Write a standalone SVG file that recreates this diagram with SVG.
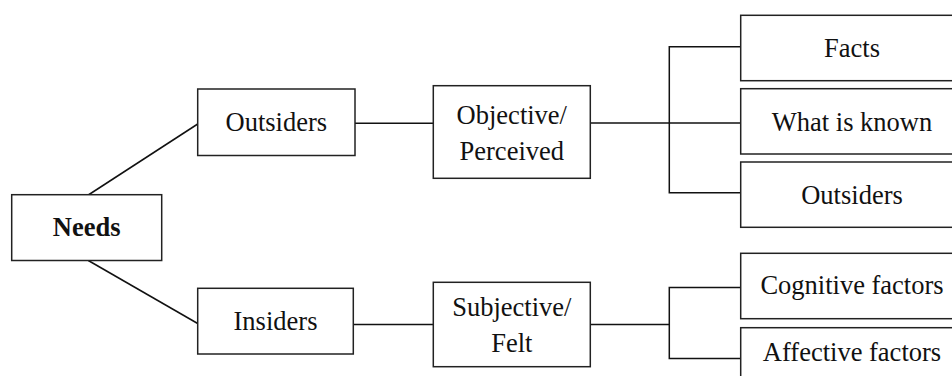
<svg xmlns="http://www.w3.org/2000/svg" width="952" height="376" viewBox="0 0 952 376">
<style>
.box{fill:#fff;stroke:#222;stroke-width:1.5}
.lbl{font-family:"Liberation Serif","Times New Roman",serif;font-size:26.5px;fill:#111;text-anchor:middle}
.b{font-weight:bold}
.ln{fill:none;stroke:#111;stroke-width:1.5}
</style>
<rect width="952" height="376" fill="#fff"/>
<g id="connectors">
<line class="ln" x1="88.3" y1="195" x2="197.7" y2="124"/>
<line class="ln" x1="88.3" y1="260.5" x2="197.7" y2="323.5"/>
<line class="ln" x1="355" y1="123.3" x2="433.3" y2="123.3"/>
<line class="ln" x1="353.3" y1="324.5" x2="433.3" y2="324.5"/>
<line class="ln" x1="590.3" y1="123" x2="740.7" y2="123"/>
<path class="ln" d="M740.7 46.7H669.3V192.7H740.7"/>
<line class="ln" x1="590.3" y1="324.5" x2="669.3" y2="324.5"/>
<path class="ln" d="M740.7 287.5H669.3V358.5H740.7"/>
</g>
<g id="needs">
<rect class="box" x="11.7" y="194.7" width="150" height="65.8"/>
<text class="lbl b" x="86.7" y="236">Needs</text>
</g>
<g id="outsiders">
<rect class="box" x="197.7" y="89" width="157.3" height="66.5"/>
<text class="lbl" x="276.3" y="130.5">Outsiders</text>
</g>
<g id="insiders">
<rect class="box" x="197.7" y="288.3" width="155.6" height="65.7"/>
<text class="lbl" x="275.5" y="330">Insiders</text>
</g>
<g id="objective">
<rect class="box" x="433.3" y="85.7" width="157" height="92.6"/>
<text class="lbl" x="511.8" y="123.5">Objective/</text>
<text class="lbl" x="511.8" y="159.5">Perceived</text>
</g>
<g id="subjective">
<rect class="box" x="433.3" y="282.3" width="157" height="84.4"/>
<text class="lbl" x="511.8" y="316">Subjective/</text>
<text class="lbl" x="511.8" y="351.7">Felt</text>
</g>
<g id="facts">
<rect class="box" x="740.7" y="15.3" width="222" height="65.4"/>
<text class="lbl" x="852" y="57">Facts</text>
</g>
<g id="what-is-known">
<rect class="box" x="740.7" y="88.7" width="222" height="65.3"/>
<text class="lbl" x="852" y="130.5">What is known</text>
</g>
<g id="outsiders-2">
<rect class="box" x="740.7" y="162" width="222" height="65.3"/>
<text class="lbl" x="852" y="203.5">Outsiders</text>
</g>
<g id="cognitive">
<rect class="box" x="740.7" y="253.3" width="222" height="65.4"/>
<text class="lbl" x="852" y="294">Cognitive factors</text>
</g>
<g id="affective">
<rect class="box" x="740.7" y="327.7" width="222" height="65.4"/>
<text class="lbl" x="852" y="361">Affective factors</text>
</g>
</svg>
